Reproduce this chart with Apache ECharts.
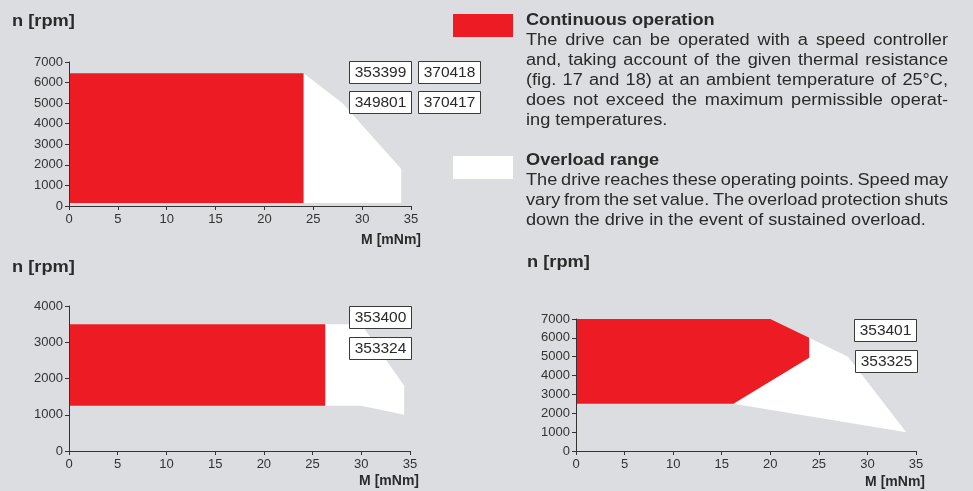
<!DOCTYPE html>
<html><head><meta charset="utf-8">
<script src="https://cdn.jsdelivr.net/npm/echarts@6/dist/echarts.min.js"></script>
<style>html,body{margin:0;padding:0;background:#dcdde0}#c{width:973px;height:491px}</style>
</head><body><div id="c"></div>
<script>
// ---- data ----
const xTicks = [0, 5, 10, 15, 20, 25, 30, 35];
const yTicksA = [0, 1000, 2000, 3000, 4000, 5000, 6000, 7000];
const yTicksB = [0, 1000, 2000, 3000, 4000];
// chart 1 (353399 / 370418 / 349801 / 370417)
const c1Continuous = [[0, 150], [24, 150], [24, 6450], [0, 6450]];
const c1Overload = [[24, 6450], [28, 5000], [34, 1800], [34, 150], [24, 150]];
const c1Labels = ['353399', '370418', '349801', '370417'];
// chart 2 (353400 / 353324)
const c2Continuous = [[0, 1250], [26.3, 1250], [26.3, 3500], [0, 3500]];
const c2Overload = [[26.3, 3500], [30, 3500], [34.4, 1800], [34.4, 1000], [30, 1250], [26.3, 1250]];
const c2Labels = ['353400', '353324'];
// chart 3 (353401 / 353325)
const c3Continuous = [[0, 2500], [16.2, 2500], [24, 4950], [24, 6000], [20, 7000], [0, 7000]];
const c3Overload = [[24, 6000], [28, 5000], [34, 1000], [16.2, 2500], [24, 4950]];
const c3Labels = ['353401', '353325'];
const yTitle = 'n [rpm]';
const xTitle = 'M [mNm]';
const legendCont = {
  title: 'Continuous operation',
  lines: ['The drive can be operated with a speed controller',
          'and, taking account of the given thermal resistance',
          '(fig. 17 and 18) at an ambient temperature of 25°C,',
          'does not exceed the maximum permissible operat-',
          'ing temperatures.']
};
const legendOver = {
  title: 'Overload range',
  lines: ['The drive reaches these operating points. Speed may',
          'vary from the set value. The overload protection shuts',
          'down the drive in the event of sustained overload.']
};

// ---- style ----
const RED = '#ed1c24';
const WHITE = '#ffffff';
const INK = '#2a2a2a';
const AXIS = '#333333';
const FAMILY = '"Liberation Sans", Arial, Helvetica, sans-serif';

const chart = echarts.init(document.getElementById('c'), null, {renderer: 'canvas'});

const grids = [
  {left: 69, top: 62, width: 342, height: 144},
  {left: 69, top: 306, width: 341, height: 145},
  {left: 576, top: 319, width: 340, height: 132}
];
const yTickSets = [yTicksA, yTicksB, yTicksA];

function xAxisFor(i) {
  return {
    gridIndex: i, type: 'value', min: xTicks[0], max: xTicks[xTicks.length - 1],
    interval: xTicks[1] - xTicks[0], z: 5,
    axisLine: {show: true, onZero: false, lineStyle: {color: AXIS, width: 1}},
    axisTick: {show: true, length: 4, lineStyle: {color: AXIS}},
    axisLabel: {color: AXIS, fontSize: 13, fontFamily: FAMILY, margin: 7, formatter: v => String(v)},
    splitLine: {show: false}
  };
}
function yAxisFor(i) {
  const t = yTickSets[i];
  return {
    gridIndex: i, type: 'value', min: t[0], max: t[t.length - 1],
    interval: t[1] - t[0], z: 5,
    axisLine: {show: true, onZero: false, lineStyle: {color: AXIS, width: 1}},
    axisTick: {show: true, length: 4, lineStyle: {color: AXIS}},
    axisLabel: {color: AXIS, fontSize: 13, fontFamily: FAMILY, margin: 6, formatter: v => String(v)},
    splitLine: {show: false}
  };
}
function poly(pts, color, gi, z) {
  return {
    type: 'custom', xAxisIndex: gi, yAxisIndex: gi, data: pts, silent: true, z: z, clip: false,
    encode: {x: 0, y: 1},
    renderItem: function (params, api) {
      if (params.dataIndex !== 0) return null;
      return {type: 'polygon', shape: {points: pts.map(p => api.coord(p))},
              style: {fill: color, stroke: null}};
    }
  };
}

// ---- graphic helpers ----
const mctx = document.createElement('canvas').getContext('2d');
const SX = 1.135, FS = 16;
function textEl(text, x, y, opts) {
  opts = opts || {};
  return {
    type: 'text', x: x, y: y, scaleX: opts.sx || 1, silent: true,
    style: {text: text, fill: opts.fill || INK, fontSize: opts.fs || FS, fontFamily: FAMILY,
            fontWeight: opts.bold ? 'bold' : 'normal', align: opts.align || 'left', verticalAlign: 'middle'}
  };
}
function justifiedLine(text, x, y, width) {
  mctx.font = FS + 'px ' + FAMILY;
  const words = text.split(' ');
  const ws = words.map(w => mctx.measureText(w).width);
  const total = ws.reduce((a, b) => a + b, 0);
  const gap = (width / SX - total) / (words.length - 1);
  const out = [];
  let cx = 0;
  words.forEach((w, i) => {
    out.push(textEl(w, x + cx * SX, y, {sx: SX}));
    cx += ws[i] + gap;
  });
  return out;
}
function paragraph(block, x, titleY, width) {
  const els = [textEl(block.title, x, titleY, {bold: true, sx: SX})];
  block.lines.forEach((ln, i) => {
    const y = titleY + 20 * (i + 1);
    if (i === block.lines.length - 1) els.push(textEl(ln, x, y, {sx: SX}));
    else els.push(...justifiedLine(ln, x, y, width));
  });
  return els;
}
function box(label, x, y, w, h) {
  return [
    {type: 'rect', silent: true, shape: {x: x + 0.5, y: y + 0.5, width: w, height: h},
     style: {fill: WHITE, stroke: '#3a3a3a', lineWidth: 1}, z: 10},
    {type: 'text', silent: true, x: x + w / 2 + 0.5, y: y + h / 2 + 1, z: 11,
     style: {text: label, fill: INK, fontSize: 15.5, fontFamily: FAMILY, align: 'center', verticalAlign: 'middle'}}
  ];
}

const graphics = [].concat(
  // legend
  [{type: 'rect', silent: true, shape: {x: 453, y: 14, width: 60, height: 23}, style: {fill: RED}},
   {type: 'rect', silent: true, shape: {x: 453, y: 156, width: 60, height: 23}, style: {fill: WHITE}}],
  paragraph(legendCont, 526, 21, 422),
  paragraph(legendOver, 526, 161, 422),
  // axis titles
  [textEl(yTitle, 12, 22, {bold: true, sx: 1.14}),
   textEl(yTitle, 12, 268, {bold: true, sx: 1.14}),
   textEl(yTitle, 527, 263, {bold: true, sx: 1.14}),
   textEl(xTitle, 421, 240, {bold: true, fs: 14, align: 'right'}),
   textEl(xTitle, 419, 481, {bold: true, fs: 14, align: 'right'}),
   textEl(xTitle, 925, 482, {bold: true, fs: 14, align: 'right'})],
  // product labels
  box(c1Labels[0], 349, 61, 62, 22), box(c1Labels[1], 418, 61, 62, 22),
  box(c1Labels[2], 349, 91, 62, 22), box(c1Labels[3], 418, 91, 62, 22),
  box(c2Labels[0], 349, 306, 62, 22), box(c2Labels[1], 349, 337, 62, 22),
  box(c3Labels[0], 854, 319, 62, 22), box(c3Labels[1], 855, 350, 62, 22)
);

chart.setOption({
  backgroundColor: '#dcdde0',
  animation: false,
  grid: grids,
  xAxis: [0, 1, 2].map(xAxisFor),
  yAxis: [0, 1, 2].map(yAxisFor),
  series: [
    poly(c1Overload, WHITE, 0, 1), poly(c1Continuous, RED, 0, 2),
    poly(c2Overload, WHITE, 1, 1), poly(c2Continuous, RED, 1, 2),
    poly(c3Overload, WHITE, 2, 1), poly(c3Continuous, RED, 2, 2)
  ],
  graphic: graphics
});
</script>
</body></html>
